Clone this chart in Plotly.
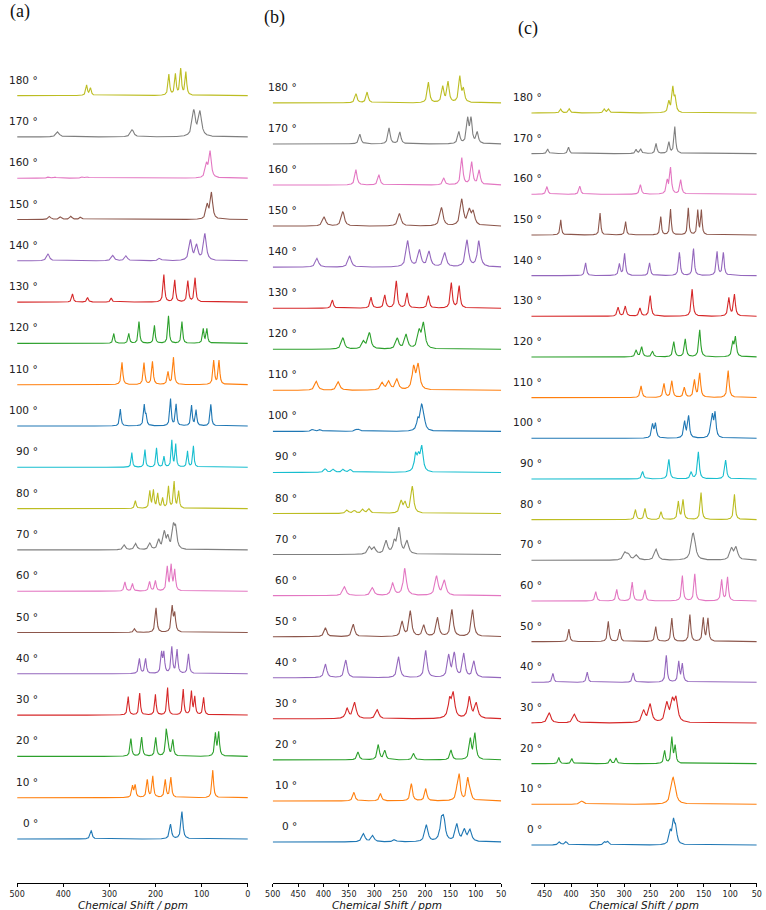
import numpy as np
import plotly.graph_objects as go

# ---------------- data ----------------
ANGLES = list(range(0, 190, 10))
TAB10 = ["#1f77b4", "#ff7f0e", "#2ca02c", "#d62728", "#9467bd",
         "#8c564b", "#e377c2", "#7f7f7f", "#bcbd22", "#17becf"]

# Peak lists (chemical shift ppm, relative height), one list per angle 0..180
A_PEAKS = [
    [(339.5, 0.3), (167.6, 0.53), (142.8, 1.0)],
    [(250, 0.4), (244.3, 0.43), (218, 0.64), (206, 0.77), (179, 0.64), (166.9, 0.73), (76, 1.0)],
    [(253.6, 0.76), (230.1, 0.82), (199.6, 0.8), (176.9, 1.0), (173.5, 0.6), (162.7, 0.69), (70.3, 0.96), (63.2, 1.0)],
    [(259.3, 0.67), (234.4, 0.8), (200.3, 0.75), (174, 1.0), (140, 0.94), (122.2, 0.85), (115, 0.64), (95.9, 0.64)],
    [(235, 0.57), (221.6, 0.57), (187, 0.75), (182, 0.75), (164.8, 1.0), (153.4, 0.9), (128.6, 0.75)],
    [(245.7, 0.15), (199, 0.98), (164, 1.0), (158.4, 0.7)],
    [(266.3, 0.37), (250, 0.3), (213, 0.38), (200.3, 0.41), (174.7, 0.95), (166.2, 1.0), (158.4, 0.82)],
    [(267.8, 0.23), (243, 0.3), (212.4, 0.3), (193, 0.45), (181, 0.8), (173.3, 0.55), (161.2, 1.0), (156.3, 0.93)],
    [(243.6, 0.3), (212.4, 0.65), (204.6, 0.67), (195.3, 0.55), (184.7, 0.38), (172, 0.82), (159.8, 1.0), (150, 0.64)],
    [(251.4, 0.55), (223, 0.66), (198, 0.72), (181.8, 0.4), (164.8, 1.0), (156.3, 0.85), (130.7, 0.6), (118, 0.8)],
    [(276.3, 0.63), (224.5, 0.75), (220.5, 0.35), (167.6, 1.0), (155.5, 0.8), (122, 0.75), (112.2, 0.58), (80.3, 0.8)],
    [(272.7, 0.82), (225, 0.8), (206.7, 0.85), (173, 0.46), (161.2, 1.0), (74, 0.88), (62.5, 0.88)],
    [(290.5, 0.36), (258, 0.36), (236, 0.79), (202.4, 0.65), (172, 1.0), (142.8, 0.79), (96.6, 0.52), (88.8, 0.52)],
    [(380, 0.3), (347.3, 0.17), (296, 0.15), (182, 1.0), (158.4, 0.8), (130, 0.77), (114.4, 0.88)],
    [(433, 0.25), (292.6, 0.2), (264, 0.18), (191, 0.1), (124.3, 0.75), (111, 0.55), (93, 1.0)],
    [(429.7, 0.12), (406, 0.1), (383.5, 0.12), (362, 0.1), (88, 0.53), (78.8, 1.0)],
    [(431, 0.06), (418, 0.04), (358, 0.06), (347, 0.05), (89.5, 0.5), (81.7, 1.0)],
    [(412, 0.2), (250.7, 0.28), (117.2, 1.0), (103.7, 0.95)],
    [(349.4, 0.4), (341, 0.28), (171.2, 0.8), (157, 0.8), (145.6, 1.0), (134.3, 0.88)],
]
A_WIDTH = [2.5, 2, 2, 1.8, 2, 2.2, 2, 3, 1.8, 1.6, 1.8, 2, 1.8, 2, 3.5, 3, 3, 4, 2]

B_PEAKS = [
    [(321.2, 0.43), (303, 0.33), (259.8, 0.13), (197.2, 0.88), (167.5, 0.97), (163, 1.0), (137.2, 0.9), (122.3, 0.6), (111.3, 0.6)],
    [(340, 0.35), (287.6, 0.3), (226.9, 0.7), (198.5, 0.5), (137.2, 0.4), (132.7, 1.0), (115.9, 0.85), (111.3, 0.4)],
    [(332, 0.3), (292, 0.58), (279.2, 0.35), (222.4, 0.25), (148.8, 0.38), (110.7, 0.79), (101.7, 1.0)],
    [(353.4, 0.42), (338.6, 0.68), (294, 0.38), (151.4, 0.74), (144.3, 1.0), (112.6, 0.9), (99, 0.64)],
    [(396, 0.5), (356, 0.65), (252, 0.77), (198.5, 1.0), (153.3, 0.8), (142.3, 0.87), (123.6, 0.87), (103.6, 0.6)],
    [(396, 0.33), (341.2, 0.46), (245, 0.55), (228.9, 0.94), (202.4, 0.42), (175.3, 0.7), (146.9, 1.0), (106.2, 1.0)],
    [(358.6, 0.33), (303.7, 0.29), (263.7, 0.45), (239.8, 1.0), (177.2, 0.71), (161.7, 0.55)],
    [(309.6, 0.29), (300, 0.25), (276.6, 0.52), (260.5, 0.45), (251.4, 1.0), (235.3, 0.52)],
    [(353.4, 0.13), (339.2, 0.11), (322.5, 0.15), (310.2, 0.17), (247, 0.44), (239.2, 0.37), (225, 1.0)],
    [(396.7, 0.15), (380.6, 0.13), (361, 0.13), (347, 0.12), (218.5, 0.68), (212.7, 0.55), (206.3, 1.0)],
    [(421.2, 0.1), (406.4, 0.1), (336, 0.08), (329.6, 0.1), (214, 0.5), (206.9, 1.0), (203, 0.65)],
    [(414, 0.37), (370.9, 0.35), (284.4, 0.3), (271.5, 0.35), (255.3, 0.44), (222.4, 0.9), (213.4, 1.0)],
    [(361.8, 0.45), (321.2, 0.3), (309.5, 0.65), (254.7, 0.42), (237.2, 0.58), (211.4, 0.68), (203, 1.0)],
    [(382.5, 0.3), (306.3, 0.4), (279.2, 0.48), (256.6, 1.0), (235.3, 0.55), (193.3, 0.46), (148.2, 0.93), (132.7, 0.82)],
    [(412.8, 0.33), (348.3, 0.42), (234, 0.98), (210.8, 0.62), (192, 0.57), (161, 0.53), (117.2, 1.0), (94, 0.97)],
    [(398.6, 0.35), (361.8, 0.55), (250.2, 0.48), (167.5, 0.7), (127.5, 1.0), (112.6, 0.55), (104.9, 0.5)],
    [(336, 0.57), (290.8, 0.38), (163, 0.26), (127.5, 1.0), (108, 0.84), (93.3, 0.54)],
    [(328.3, 0.41), (270.8, 0.67), (249.5, 0.5), (133.3, 0.5), (115.9, 1.0), (109.4, 1.0), (97.1, 0.47)],
    [(336, 0.35), (314, 0.42), (193.3, 0.8), (165, 0.62), (154.6, 0.8), (131.4, 1.0), (124.3, 0.5)],
]
B_WIDTH = [3.5, 2.5, 2.5, 3.5, 3, 3, 3.5, 3.5, 3, 3, 3, 3.5, 3.5, 2.2, 3.5, 3.5, 2.5, 2.5, 2.5]

C_PEAKS = [
    [(421.9, 0.15), (409.5, 0.15), (336.6, 0.14), (330.5, 0.15), (213, 0.56), (206.9, 1.0), (202.6, 0.7)],
    [(379.3, 0.21), (208.8, 1.0), (205.7, 0.95)],
    [(423, 0.24), (398.4, 0.2), (326.1, 0.18), (315, 0.22), (223.6, 0.5), (210, 1.0), (203.8, 0.66)],
    [(441, 0.45), (393.5, 0.4), (263.1, 0.53), (250.8, 0.82), (219.3, 0.84), (208.8, 0.88), (202, 1.0)],
    [(434.2, 0.33), (369.4, 0.38), (282.9, 0.35), (220.5, 1.0), (197, 0.75), (190.2, 0.66)],
    [(404, 0.47), (329.8, 0.75), (308.2, 0.46), (240.3, 0.56), (210, 0.87), (176, 1.0), (150.7, 0.87), (142, 0.85)],
    [(353.3, 0.35), (313.8, 0.43), (284.7, 0.7), (260.7, 0.41), (190.2, 0.94), (166.8, 1.0), (116.1, 0.78), (105, 0.88)],
    [(298.3, 0.42), (292, 0.3), (276.7, 0.29), (239.6, 0.64), (171.5, 0.97), (168, 1.0), (97.6, 0.64), (89, 0.72)],
    [(278.6, 0.37), (260.7, 0.41), (230.4, 0.29), (197.7, 0.66), (189, 0.72), (155, 1.0), (92, 0.94)],
    [(265, 0.28), (215.6, 0.73), (173.6, 0.25), (160, 1.0), (108.7, 0.7)],
    [(246.4, 0.56), (240.9, 0.59), (186, 0.68), (178.5, 0.92), (136.5, 0.45), (133.4, 0.78), (128.5, 1.0)],
    [(268, 0.43), (224.8, 0.51), (210, 0.61), (186.5, 0.37), (167.4, 0.63), (157.5, 0.89), (103.8, 1.0)],
    [(277.3, 0.25), (266.8, 0.37), (246.4, 0.21), (206.3, 0.56), (184.7, 0.66), (157.5, 1.0), (95.1, 0.5), (90.2, 0.7)],
    [(311.3, 0.33), (297.7, 0.37), (270, 0.3), (250.8, 0.76), (171.7, 1.0), (102.5, 0.67), (92, 0.8)],
    [(372.5, 0.47), (308.8, 0.43), (299, 0.81), (252, 0.47), (195.8, 0.86), (169.2, 1.0), (124.8, 0.88), (113, 0.84)],
    [(419.4, 0.56), (345.3, 0.82), (297.1, 0.5), (231, 0.68), (212.5, 0.96), (179.1, 1.0), (161.2, 0.9), (154.4, 0.9)],
    [(445.4, 0.3), (383.6, 0.31), (269.3, 0.37), (218.7, 0.5), (212.5, 1.0), (193.3, 0.56)],
    [(444, 0.17), (404.6, 0.24), (277.3, 0.15), (268.7, 0.17), (239.7, 0.38), (215.6, 0.42), (204.4, 1.0)],
    [(419.4, 0.16), (403.3, 0.17), (337.3, 0.16), (329.2, 0.16), (215.6, 0.45), (208.2, 1.0), (203.8, 0.57)],
]
C_WIDTH = [2.5, 4, 1.8, 3.5, 1.8, 1.8, 1.8, 3.5, 1.8, 2, 2, 2, 2, 2, 1.8, 1.5, 2, 1.8, 2]

X_RANGES = [(500, 0), (500, 50), (475, 50)]
X_TICKS = [[500, 400, 300, 200, 100, 0],
           [500, 450, 400, 350, 300, 250, 200, 150, 100, 50],
           [450, 400, 350, 300, 250, 200, 150, 100, 50]]
PANEL_LABELS = ["(a)", "(b)", "(c)"]
OFFSET_STEP = 1.5

# ---------------- layout geometry (pixels) ----------------
W, H = 766, 910
AXIS_Y = 883
X_PIX = [(9.3, 244.0), (269.3, 501.7), (532.3, 761.7)]
BASE0 = [839, 842, 845]          # pixel y of 0-degree baseline
SPACING = [41.3, 41.06, 40.67]   # pixel distance between traces
LABEL_RIGHT = [33, 296, 545]
TITLE_POS = [(0, 12), (258, 17), (517, 29)]


def spectrum(x, peaks, w):
    y = np.zeros_like(x)
    for p, h in peaks:
        y += h / (1.0 + ((x - p) / w) ** 2)
    return y / y.max()


fig = go.Figure()
panels = [(A_PEAKS, A_WIDTH), (B_PEAKS, B_WIDTH), (C_PEAKS, C_WIDTH)]
annotations = []
for j, (peaks, widths) in enumerate(panels):
    xa = "x" if j == 0 else f"x{j+1}"
    ya = "y" if j == 0 else f"y{j+1}"
    hi, lo = X_RANGES[j]
    x = np.linspace(lo, hi, 3600)
    for k, ang in enumerate(ANGLES):
        y = spectrum(x, peaks[k], widths[k]) + k * OFFSET_STEP
        fig.add_trace(go.Scatter(x=x, y=y, mode="lines", xaxis=xa, yaxis=ya,
                                 line=dict(color=TAB10[k % 10], width=1.1),
                                 showlegend=False, hoverinfo="skip"))
        u = SPACING[j] / OFFSET_STEP
        annotations.append(dict(
            x=LABEL_RIGHT[j] / W, xref="paper", xanchor="right",
            y=k * OFFSET_STEP + 16.0 / u, yref=ya, yanchor="middle",
            text=f"{ang} °", showarrow=False,
            font=dict(family="DejaVu Sans", size=10.5, color="#222")))
    u = SPACING[j] / OFFSET_STEP
    ymin = -(AXIS_Y - BASE0[j]) / u
    ymax = BASE0[j] / u
    key = "" if j == 0 else str(j + 1)
    fig.update_layout(**{
        f"xaxis{key}": dict(
            domain=[X_PIX[j][0] / W, X_PIX[j][1] / W], anchor=ya,
            range=[hi, lo], tickvals=X_TICKS[j],
            ticktext=[str(t) for t in X_TICKS[j]],
            showline=True, linecolor="black", linewidth=0.8,
            ticks="outside", ticklen=3.5, tickwidth=0.8, tickcolor="black",
            showgrid=False, zeroline=False,
            tickfont=dict(family="DejaVu Sans", size=8, color="#222")),
        f"yaxis{key}": dict(
            domain=[(H - AXIS_Y) / H, 1], anchor=xa, range=[ymin, ymax],
            visible=False, showgrid=False, zeroline=False),
    })
    annotations.append(dict(
        x=(X_PIX[j][0] + X_PIX[j][1]) / 2 / W, xref="paper", xanchor="center",
        y=(H - 905) / H, yref="paper", yanchor="middle",
        text="<i>Chemical Shift / ppm</i>", showarrow=False,
        font=dict(family="DejaVu Sans", size=10.5, color="#111")))
    annotations.append(dict(
        x=TITLE_POS[j][0] / W, xref="paper", xanchor="left",
        y=1 - TITLE_POS[j][1] / H, yref="paper", yanchor="middle",
        text=PANEL_LABELS[j], showarrow=False,
        font=dict(family="Liberation Serif", size=18, color="#111")))

fig.update_layout(width=W, height=H, margin=dict(l=0, r=0, t=0, b=0),
                  paper_bgcolor="white", plot_bgcolor="white",
                  annotations=annotations)
fig.write_html("out.html", include_plotlyjs=True, config={"displayModeBar": False})
